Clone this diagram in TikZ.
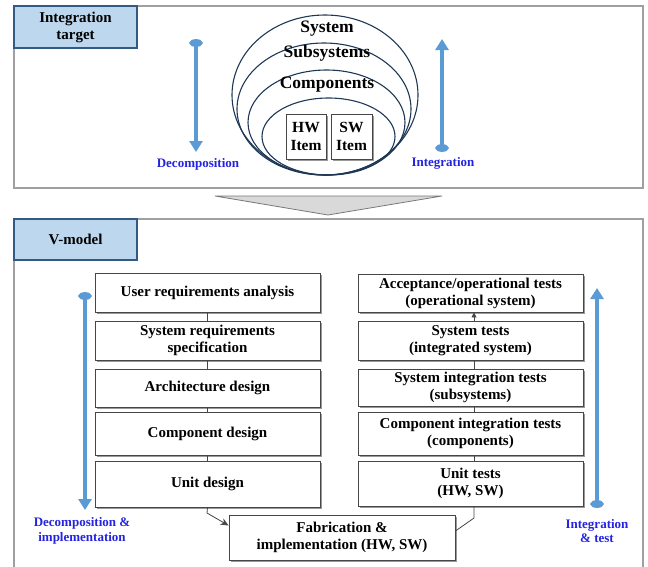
\documentclass[tikz,border=0pt]{standalone}
\usepackage{fontspec}
\setmainfont{Liberation Serif}
\usetikzlibrary{arrows.meta,shadows}
\definecolor{panelgray}{RGB}{160,160,160}
\definecolor{tagfill}{RGB}{189,215,238}
\definecolor{tagline}{RGB}{50,90,130}
\definecolor{boxline}{RGB}{70,70,70}
\definecolor{ringline}{RGB}{30,55,85}
\definecolor{flowblue}{RGB}{91,155,213}
\definecolor{labelblue}{RGB}{35,35,225}
\definecolor{funnelfill}{RGB}{217,217,217}
\definecolor{funnelline}{RGB}{120,120,120}
\begin{document}
\begin{tikzpicture}[x=1pt,y=-1pt,
  panel/.style={draw=panelgray,line width=1.5pt},
  tag/.style={draw=tagline,fill=tagfill,line width=1.2pt,inner sep=0pt,align=center,
    font=\fontsize{15}{17}\selectfont\bfseries},
  stage/.style={draw=boxline,fill=white,line width=0.9pt,inner sep=0pt,align=center,
    minimum width=225pt,font=\fontsize{15}{17}\selectfont\bfseries,
    drop shadow={shadow xshift=2pt,shadow yshift=-2pt,fill=black,opacity=0.4}},
  item/.style={stage,minimum width=40pt,minimum height=45pt,font=\fontsize{15.5}{18}\selectfont\bfseries},
  ring/.style={draw=ringline,line width=1.1pt},
  ringtext/.style={inner sep=0pt,font=\fontsize{17.5}{19}\selectfont\bfseries},
  flow/.style={draw=flowblue,line width=3.5pt,
    {Ellipse[width=13pt,length=8pt]}-{Triangle[width=13pt,length=11pt]}},
  flowlabel/.style={text=labelblue,align=center,inner sep=0pt,
    font=\fontsize{13}{14.5}\selectfont\bfseries},
  link/.style={draw=boxline,line width=0.8pt},
]
\useasboundingbox (0,0) rectangle (648,566);

% ---------- upper panel: integration target ----------
\draw[panel] (14,6) rectangle (643,188);
\node[tag,minimum width=123pt,minimum height=42pt] (tagtop) at (75.5,27) {Integration\\target};

% nested levels of the system
\draw[ring] (325,95) ellipse [x radius=93pt, y radius=80pt];
\draw[ring] (324,109) ellipse [x radius=87pt, y radius=66pt];
\draw[ring] (326.5,122.5) ellipse [x radius=78.5pt, y radius=52.5pt];
\draw[ring] (328.5,136.5) ellipse [x radius=66.5pt, y radius=38.5pt];
\node[ringtext] (sys) at (327,29) {System};
\node[ringtext] (subsys) at (327,53) {Subsystems};
\node[ringtext] (comps) at (327,85) {Components};
\node[item] (hw) at (306,136.5) {HW\\Item};
\node[item,minimum width=41pt] (sw) at (351.5,136.5) {SW\\Item};

% decomposition / integration directions
\coordinate (decA) at (196,39);
\coordinate (decB) at (196,152);
\draw[flow] (decA) -- (decB);
\node[flowlabel] (declab) at (198,164) {Decomposition};
\coordinate (intA) at (442,152);
\coordinate (intB) at (442,39);
\draw[flow] (intA) -- (intB);
\node[flowlabel] (intlab) at (443,163) {Integration};

% funnel between the panels
\draw[draw=funnelline,fill=funnelfill,line width=0.8pt,line join=round]
  (215,196) -- (442,196) -- (328,215) -- cycle;

% ---------- lower panel: V-model ----------
\draw[panel] (14,219) rectangle (643,570);
\node[tag,minimum width=123pt,minimum height=41pt] (tagv) at (75.5,239.5) {V-model};

% left branch
\node[stage,minimum height=39pt] (ura) at (207.5,292.5) {User requirements analysis};
\node[stage,minimum height=39pt] (srs) at (207.5,340.5) {System requirements\\specification};
\node[stage,minimum height=38pt] (arch) at (207.5,388) {Architecture design};
\node[stage,minimum height=43pt] (cdes) at (207.5,433.5) {Component design};
\node[stage,minimum height=46pt] (udes) at (207.5,484) {Unit design};

% right branch
\node[stage,minimum height=38pt] (acc) at (470.5,293) {Acceptance/operational tests\\(operational system)};
\node[stage,minimum height=39pt] (stest) at (470.5,340.5) {System tests\\(integrated system)};
\node[stage,minimum height=37pt] (sit) at (470.5,387.5) {System integration tests\\(subsystems)};
\node[stage,minimum height=43pt] (cit) at (470.5,433.5) {Component integration tests\\(components)};
\node[stage,minimum height=45pt] (utest) at (470.5,483.5) {Unit tests\\(HW, SW)};

% bottom of the V
\node[stage,minimum width=226pt,minimum height=45pt] (fab) at (342,537.5) {Fabrication \&\\implementation (HW, SW)};

% connectors, left branch
\draw[link] (ura.south) -- (srs.north);
\draw[link] (srs.south) -- (arch.north);
\draw[link] (arch.south) -- (cdes.north);
\draw[link] (cdes.south) -- (udes.north);
\coordinate (lbend) at (207,513);
\draw[link,-{Stealth[length=8pt,width=7pt]}] (udes.south) -- (lbend) -- ([yshift=12pt]fab.west);

% connectors, right branch
\draw[link] ([xshift=3.5pt]utest.north) -- ([xshift=3.5pt]cit.south);
\draw[link] ([xshift=3.5pt]cit.north) -- ([xshift=3.5pt]sit.south);
\draw[link] ([xshift=3.5pt]sit.north) -- ([xshift=3.5pt]stest.south);
\draw[link,-{Triangle[length=5pt,width=5pt]}] ([xshift=3.5pt]stest.north) -- ([xshift=3.5pt]acc.south);
\coordinate (rbend) at (474,518);
\draw[link] ([xshift=3.5pt]utest.south) -- (rbend) -- ([yshift=6.5pt]fab.east);

% direction arrows of the V
\coordinate (vdA) at (85,292);
\coordinate (vdB) at (85,510);
\draw[flow] (vdA) -- (vdB);
\node[flowlabel] (vdlab) at (82,531) {Decomposition \&\\implementation};
\coordinate (viA) at (597,508);
\coordinate (viB) at (597,288);
\draw[flow] (viA) -- (viB);
\node[flowlabel] (vilab) at (597,531) {Integration\\\& test};
\end{tikzpicture}
\end{document}
